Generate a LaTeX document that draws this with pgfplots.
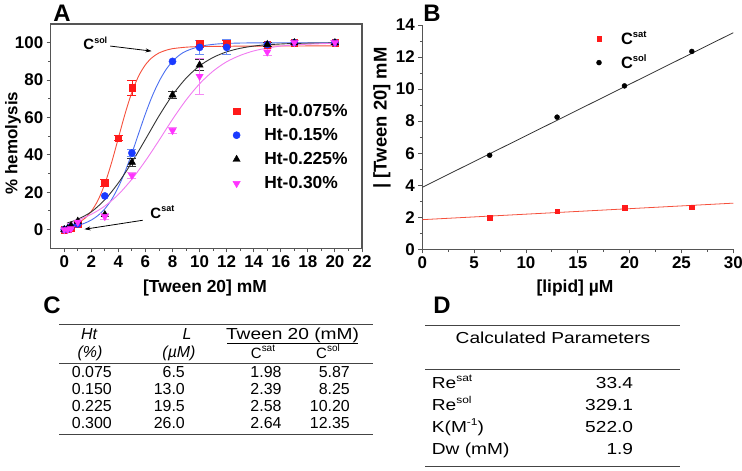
\documentclass[border=0pt]{standalone}
\usepackage{pgfplots}
\pgfplotsset{compat=1.18}
\usepackage{fontspec}
\setmainfont{Liberation Sans}
\newfontfamily\widefont[FakeStretch=1.2]{Liberation Sans}
\usetikzlibrary{arrows.meta}
\definecolor{cred}{HTML}{FF1A1A}
\definecolor{cblue}{HTML}{1A3AFF}
\definecolor{cmag}{HTML}{FF33FF}
\definecolor{lred}{HTML}{F5503C}
\definecolor{lblue}{HTML}{4A6EF0}
\definecolor{lmag}{HTML}{F07AF0}
\definecolor{lblack}{HTML}{333333}
\definecolor{eblue}{HTML}{6A8CF5}
\definecolor{emag}{HTML}{F58AF5}
\definecolor{axgray}{HTML}{555555}
\definecolor{rulegray}{HTML}{444444}
\newcommand{\fs}[1]{\fontsize{#1}{#1}\selectfont}
\newcommand{\sups}[2]{\raisebox{0.42em}{\fs{#1}#2}}
\pgfplotsset{
  legA/.style={legend image code/.code={\path (0cm,0cm) (1.2cm,0cm); \draw[mark repeat=2,mark phase=2,##1] plot coordinates {(0cm,0cm)(0.3cm,0cm)(1.2cm,0cm)};}},
  legB/.style={legend image code/.code={\path (0cm,0cm) (1.0cm,0cm); \draw[mark repeat=2,mark phase=2,##1] plot coordinates {(0cm,0cm)(0.3cm,0cm)(1.0cm,0cm)};}},
}
\begin{document}
\begin{tikzpicture}
\useasboundingbox (0,0) rectangle (742bp,-471bp);
% ---------------- Panel A
\begin{axis}[
  at={(50.7bp,-248.3bp)}, anchor=south west,
  scale only axis, width=311.3bp, height=224.3bp,
  xmin=-1, xmax=22, ymin=-10, ymax=110,
  xtick={0,2,...,22}, ytick={0,20,...,100},
  minor x tick num=1, minor y tick num=1,
  tick align=outside, xtick pos=bottom, ytick pos=left,
  major tick length=4bp, minor tick length=2.5bp,
  axis line style={axgray, line width=1.1pt},
  tick style={axgray, line width=0.9pt},
  tick label style={font=\bfseries\fs{17}},
  /pgf/number format/assume math mode=true,
  legend style={at={(0.559,0.661)}, anchor=north west, draw=none, fill=none,
    font=\bfseries\fs{17.5}, row sep=6.5bp},
  legend cell align=left,
]
% fitted curves
\addplot[lred, line width=0.9pt, forget plot, smooth] coordinates {(0.2,1.5)(0.5,2.0)(1,3.5)(1.5,5.9)(2,9.8)(2.5,15.8)(3,24.5)(3.5,35.9)(4,49)(4.5,62.1)(5,73.5)(5.5,82.2)(6,88.2)(6.5,92.1)(7,94.5)(7.5,95.9)(8,96.8)(9,97.6)(10,97.9)(12,98.1)(15,98.2)(20,98.3)};
\addplot[lblue, line width=0.9pt, forget plot, smooth] coordinates {(0.2,1.1)(0.5,1.5)(1,2.2)(1.5,3.4)(2,5.1)(2.5,7.6)(3,11.1)(3.5,16.1)(4,22.8)(4.5,31.1)(5,40.9)(5.5,51.5)(6,62.0)(6.5,71.4)(7,79.2)(7.5,85.4)(8,90.0)(8.5,93.3)(9,95.5)(10,98.0)(11,99.1)(12,99.6)(14,99.9)(20,100)};
\addplot[lblack, line width=0.9pt, forget plot, smooth] coordinates {(0.2,3.5)(0.5,4.2)(1,5.5)(2,9.5)(3,16)(4,25)(5,36)(6,48.3)(7,60.8)(8,72)(9,81)(10,87.6)(11,92.1)(12,95.1)(13,97)(14,98.2)(15,98.9)(17,99.6)(20,99.9)};
\addplot[lmag, line width=0.9pt, forget plot, smooth] coordinates {(0.2,3.0)(0.5,3.6)(1,5)(2,8.2)(3,12.6)(4,18.8)(5,27)(6,36.8)(7,47.7)(8,59)(9,69.3)(10,78)(11,84.8)(12,89.8)(13,93.2)(14,95.6)(15,97.1)(16,98.2)(17,98.8)(18,99.2)(20,99.7)};
% error bars
\addplot[draw=none, mark=none, forget plot, error bars/.cd, y dir=both, y explicit,
  error bar style={draw=cred, line width=0.8pt}, error mark options={draw=cred, rotate=90, mark size=4.5bp, line width=0.8pt}]
  coordinates {(3,25) +- (0,2) (4,49) +- (0,1.5) (5,76) +- (0,4) (10,99.5) +- (0,1.5) (12,99.5) +- (0,1.5) (15,99) +- (0,1)};
\addplot[draw=none, mark=none, forget plot, error bars/.cd, y dir=both, y explicit,
  error bar style={draw=eblue, line width=0.8pt}, error mark options={draw=eblue, rotate=90, mark size=4.5bp, line width=0.8pt}]
  coordinates {(5,41) +- (0,2) (10,97.5) +- (0,3.5) (12,97.5) +- (0,4) (15,99) +- (0,1)};
\addplot[draw=none, mark=none, forget plot, error bars/.cd, y dir=both, y explicit,
  error bar style={draw=lblack, line width=0.8pt}, error mark options={draw=lblack, rotate=90, mark size=4.5bp, line width=0.8pt}]
  coordinates {(5,36) +- (0,2) (8,72) +- (0,2) (10,88) +- (0,3) (15,99) +- (0,1)};
\addplot[draw=none, mark=none, forget plot, error bars/.cd, y dir=both, y explicit,
  error bar style={draw=emag, line width=0.8pt}, error mark options={draw=emag, rotate=90, mark size=4.5bp, line width=0.8pt}]
  coordinates {(3,7) +- (0,1.5) (5,29) +- (0,1.5) (8,53) +- (0,1.5) (10,82) +- (0,9.5) (15,95) +- (0,2) (17,100) +- (0,1) (20,100) +- (0,1)};
% data points
\addplot[only marks, legA, mark=square*, mark size=3.2bp, cred, mark options={fill=cred, draw=cred}] coordinates {(0,0)(0.25,0.3)(0.5,1)(1,3)(3,25)(4,49)(5,76)(10,99.5)(12,99.5)(15,99)(17,100)(20,100)};
\addplot[only marks, legA, mark=*, mark size=3.6bp, cblue, mark options={fill=cblue, draw=cblue}] coordinates {(0,0)(0.25,0.3)(0.5,1.5)(1,3)(3,18)(5,41)(8,90)(10,97.5)(12,97.5)(15,99)(17,100)(20,100)};
\addplot[only marks, legA, mark=triangle*, mark size=4.2bp, black, mark options={fill=black, draw=black}] coordinates {(0,0)(0.25,0.5)(0.5,2)(1,4.5)(3,8)(5,36)(8,72)(10,88)(15,99)(17,100)(20,100)};
\addplot[only marks, legA, mark=triangle*, mark size=4.2bp, cmag, mark options={fill=cmag, draw=cmag, rotate=180}] coordinates {(0,0)(0.25,0)(0.5,0.5)(1,4)(3,7)(5,29)(8,53)(10,82)(15,95)(17,100)(20,100)};
\legend{Ht-0.075\%, Ht-0.15\%, Ht-0.225\%, Ht-0.30\%}
% annotations
\node[font=\bfseries\fs{15}] at (axis cs:2.3,99.5) {C\sups{9}{sol}};
\draw[-{Stealth[length=6bp,width=4bp]}, line width=0.8pt] (axis cs:3.4,98.2) -- (axis cs:6.45,95.5);
\node[font=\bfseries\fs{15}] at (axis cs:7.25,9.3) {C\sups{9}{sat}};
\draw[-{Stealth[length=6bp,width=4bp]}, line width=0.8pt] (axis cs:5.8,5.0) -- (axis cs:1.5,0.2);
\end{axis}
% ---------------- Panel B
\begin{axis}[
  at={(422.3bp,-249.3bp)}, anchor=south west,
  scale only axis, width=311bp, height=224.3bp,
  xmin=0, xmax=30, ymin=0, ymax=14,
  xtick={0,5,...,30}, ytick={0,2,...,14},
  minor x tick num=1, minor y tick num=1,
  axis x line*=bottom, axis y line*=left,
  tick align=outside,
  major tick length=4bp, minor tick length=2.5bp,
  axis line style={-, axgray, line width=1.1pt},
  tick style={axgray, line width=0.9pt},
  tick label style={font=\bfseries\fs{17}},
  /pgf/number format/assume math mode=true,
  legend style={at={(0.53,0.99)}, anchor=north west, draw=none, fill=none,
    font=\bfseries\fs{16.5}, row sep=5bp},
  legend cell align=left,
]
\addplot[lred, line width=0.8pt, forget plot] coordinates {(0,1.85)(30,2.88)};
\addplot[lblack, line width=0.8pt, forget plot] coordinates {(0,3.87)(30,13.52)};
\addplot[only marks, legB, mark=square*, mark size=2.3bp, cred, mark options={fill=cred, draw=cred}] coordinates {(6.5,1.98)(13,2.39)(19.5,2.58)(26,2.64)};
\addplot[only marks, legB, mark=*, mark size=2.5bp, black, mark options={fill=black, draw=black}] coordinates {(6.5,5.87)(13,8.25)(19.5,10.20)(26,12.35)};
\legend{C\sups{9.5}{sat}, C\sups{9.5}{sol}}
\end{axis}
% ---------------- labels and tables
\begin{scope}[x=1bp, y=-1bp, every node/.style={inner sep=0pt}]
\node[font=\bfseries\fs{24}] at (62,13) {A};
\node[font=\bfseries\fs{24}] at (432,13) {B};
\node[font=\bfseries\fs{17}, rotate=90] at (13,143) {\% hemolysis};
\node[font=\bfseries\fs{17.5}] at (205,288) {[Tween 20] mM};
\node[font=\bfseries\fs{18.5}, rotate=90] at (382,118) {| [Tween 20] mM};
\node[font=\bfseries\fs{17.5}] at (575,288) {[lipid] µM};
% Table C
\node[font=\bfseries\fs{24}] at (52,305) {C};
\draw[rulegray, line width=0.8pt] (59,324) -- (373,324);
\node[anchor=base, font=\itshape\fs{16}] at (89,339) {Ht};
\node[anchor=base, font=\itshape\fs{16}] at (187,339) {L};
\node[anchor=base, font=\widefont\fs{16}] at (292.5,339) {Tween 20 (mM)};
\draw[black, line width=0.7pt] (227,343) -- (358,343);
\node[anchor=base, font=\itshape\fs{16}] at (90,357) {(\%)};
\node[anchor=base, font=\itshape\fs{16}] at (179,357) {(µM)};
\node[anchor=base, font=\fs{15}] at (263,358) {C\sups{10}{sat}};
\node[anchor=base, font=\fs{15}] at (328,358) {C\sups{10}{sol}};
\draw[rulegray, line width=0.8pt] (59,363) -- (373,363);
\begin{scope}[every node/.append style={font=\fs{16}}]
\node[anchor=base west] at (71.7,377) {0.075};
\node[anchor=base west] at (71.7,394) {0.150};
\node[anchor=base west] at (71.7,411) {0.225};
\node[anchor=base west] at (71.7,428) {0.300};
\node[anchor=base east] at (185,377) {6.5};
\node[anchor=base east] at (185,394) {13.0};
\node[anchor=base east] at (185,411) {19.5};
\node[anchor=base east] at (185,428) {26.0};
\node[anchor=base east] at (281.7,377) {1.98};
\node[anchor=base east] at (281.7,394) {2.39};
\node[anchor=base east] at (281.7,411) {2.58};
\node[anchor=base east] at (281.7,428) {2.64};
\node[anchor=base east] at (350,377) {5.87};
\node[anchor=base east] at (350,394) {8.25};
\node[anchor=base east] at (350,411) {10.20};
\node[anchor=base east] at (350,428) {12.35};
\end{scope}
\draw[rulegray, line width=0.8pt] (59,434) -- (373,434);
% Table D
\node[font=\bfseries\fs{24}] at (442,305) {D};
\draw[rulegray, line width=0.8pt] (425,325) -- (680,325);
\node[anchor=base, font=\widefont\fs{16}] at (553,343) {Calculated Parameters};
\draw[rulegray, line width=0.8pt] (425,369) -- (680,369);
\begin{scope}[every node/.append style={font=\widefont\fs{16}}]
\node[anchor=base west] at (431.7,388) {Re\sups{10}{sat}};
\node[anchor=base west] at (431.7,410) {Re\sups{10}{sol}};
\node[anchor=base west] at (431.7,432) {K(M\sups{10}{-1})};
\node[anchor=base west] at (431.7,454) {Dw (mM)};
\node[anchor=base east] at (633.3,388) {33.4};
\node[anchor=base east] at (633.3,410) {329.1};
\node[anchor=base east] at (633.3,432) {522.0};
\node[anchor=base east] at (633.3,454) {1.9};
\end{scope}
\draw[rulegray, line width=0.8pt] (425,466) -- (680,466);
\end{scope}
\end{tikzpicture}
\end{document}
